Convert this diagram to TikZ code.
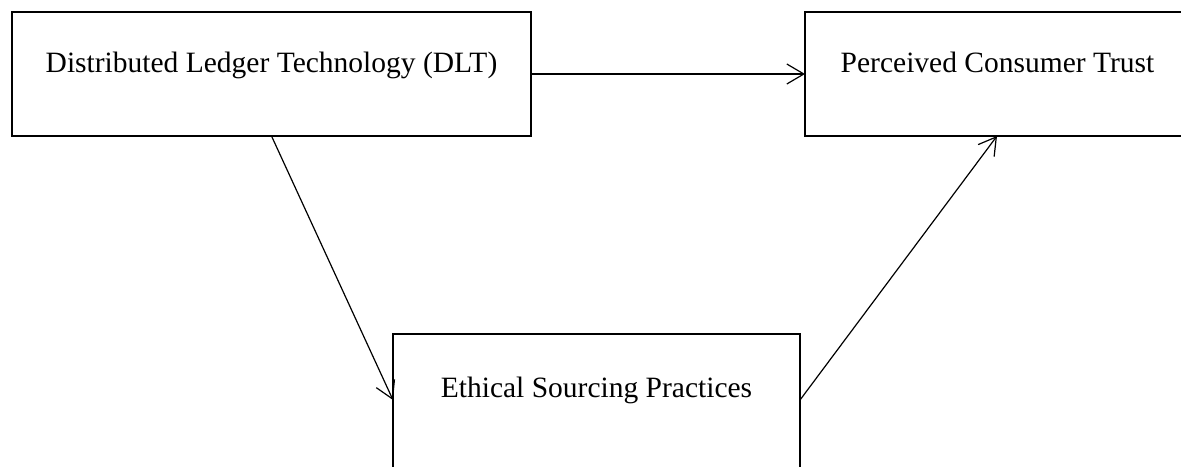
\documentclass[tikz,border=0pt]{standalone}
\usepackage{fontspec}
\setmainfont{Liberation Serif}
\usetikzlibrary{arrows.meta}
\tikzset{
  box/.style={draw=black, line width=1.4pt, fill=none, inner sep=0pt, outer sep=0pt, minimum height=62pt},
  lbl/.style={anchor=base, inner sep=0pt, font=\fontsize{14.75pt}{17pt}\selectfont},
  link/.style={draw=black, line width=0.6pt, -{Straight Barb[length=8.5pt,width=10pt]}}
}
\begin{document}
\begin{tikzpicture}[x=0.5pt,y=-0.5pt]
\useasboundingbox (0,0) rectangle (1181,466);
\clip (0,0) rectangle (1181,466);
\node[box, minimum width=259.5pt] (dlt) at (271.5,74) {};
\node[box, minimum width=192pt] (pct) at (997,74) {};
\node[box, minimum width=203.5pt, minimum height=80pt] (esp) at (596.5,414) {};
\path (esp.north west) ++(0,66) coordinate (espw);
\path (esp.north east) ++(0,66) coordinate (espe);
\node[lbl] (tdlt) at (271.5,72) {Distributed Ledger Technology (DLT)};
\node[lbl] (tpct) at (997.5,72) {Perceived Consumer Trust};
\node[lbl] (tesp) at (596.5,397) {Ethical Sourcing Practices};
\draw[link] (dlt.east) -- (pct.west);
\draw[link] (dlt.south) -- (espw);
\draw[link] (espe) -- (pct.south);
\end{tikzpicture}
\end{document}
